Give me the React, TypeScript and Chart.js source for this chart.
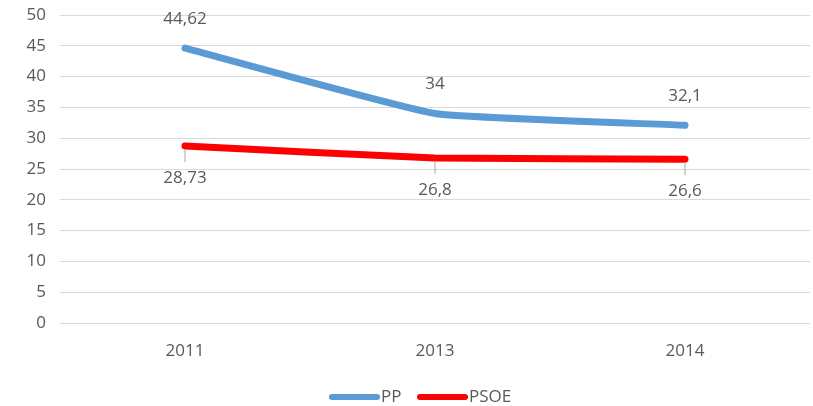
import React, { useEffect, useRef } from "react";
import { Chart, registerables } from "chart.js";

Chart.register(...registerables);

const categories = ["2011", "2013", "2014"];
const ppValues = [44.62, 34, 32.1];
const psoeValues = [28.73, 26.8, 26.6];
const ppLabels = ["44,62", "34", "32,1"];
const psoeLabels = ["28,73", "26,8", "26,6"];
const seriesNames = ["PP", "PSOE"];
const seriesColors = ["#5B9BD5", "#FF0000"];

const FONT = "'Open Sans', sans-serif";
const TEXT = "#595959";

const labelPlugin = {
  id: "labels",
  afterDatasetsDraw(chart: any) {
    const ctx = chart.ctx;
    ctx.save();
    ctx.font = `17px ${FONT}`;
    ctx.fillStyle = TEXT;
    ctx.textAlign = "center";
    ctx.textBaseline = "middle";
    const m0 = chart.getDatasetMeta(0);
    const m1 = chart.getDatasetMeta(1);
    m0.data.forEach((p: any, i: number) => {
      ctx.fillText(ppLabels[i], p.x, p.y - 29);
    });
    m1.data.forEach((p: any, i: number) => {
      ctx.strokeStyle = "#a6a6a6";
      ctx.lineWidth = 1;
      ctx.beginPath();
      ctx.moveTo(p.x, p.y + 3);
      ctx.lineTo(p.x, p.y + 16);
      ctx.stroke();
      ctx.fillText(psoeLabels[i], p.x, p.y + 32);
    });
    // legend
    const cy = 397;
    const items = [
      { x: 329, name: seriesNames[0], color: seriesColors[0] },
      { x: 417, name: seriesNames[1], color: seriesColors[1] },
    ];
    ctx.textAlign = "left";
    items.forEach((it) => {
      ctx.strokeStyle = it.color;
      ctx.lineWidth = 6;
      ctx.lineCap = "round";
      ctx.beginPath();
      ctx.moveTo(it.x + 3, cy);
      ctx.lineTo(it.x + 48, cy);
      ctx.stroke();
      ctx.fillText(it.name, it.x + 52, cy);
    });
    ctx.restore();
  },
};

export default function App() {
  const ref = useRef<HTMLCanvasElement | null>(null);
  useEffect(() => {
    document.body.style.margin = "0";
    const chart = new Chart(ref.current as HTMLCanvasElement, {
      type: "line",
      data: {
        labels: categories,
        datasets: [
          {
            label: seriesNames[0],
            data: ppValues,
            borderColor: seriesColors[0],
            backgroundColor: seriesColors[0],
            borderWidth: 7,
            pointRadius: 0,
            tension: 0.12,
            borderCapStyle: "round",
            borderJoinStyle: "round",
          },
          {
            label: seriesNames[1],
            data: psoeValues,
            borderColor: seriesColors[1],
            backgroundColor: seriesColors[1],
            borderWidth: 7,
            pointRadius: 0,
            tension: 0.12,
            borderCapStyle: "round",
            borderJoinStyle: "round",
          },
        ],
      },
      options: {
        animation: false,
        responsive: false,
        layout: { padding: { top: 15, right: 3, bottom: 30, left: 0 } },
        plugins: { legend: { display: false }, tooltip: { enabled: false } },
        scales: {
          x: {
            offset: true,
            grid: { display: false, drawTicks: false },
            border: { display: false },
            ticks: { color: TEXT, font: { family: FONT, size: 17 }, padding: 18 },
            afterFit: (s: any) => {
              s.height = 53;
              s.paddingLeft = 0;
              s.paddingRight = 0;
            },
          },
          y: {
            min: 0,
            max: 50,
            ticks: { stepSize: 5, color: TEXT, font: { family: FONT, size: 17 }, padding: 14 },
            grid: { color: "#d9d9d9", drawTicks: false, lineWidth: 1 },
            border: { display: false },
            afterFit: (s: any) => {
              s.width = 60;
              s.paddingTop = 0;
              s.paddingBottom = 0;
            },
          },
        },
      },
      plugins: [labelPlugin],
    });
    return () => chart.destroy();
  }, []);
  return (
    <div style={{ width: 813, height: 406 }}>
      <canvas ref={ref} width={813} height={406} />
    </div>
  );
}
